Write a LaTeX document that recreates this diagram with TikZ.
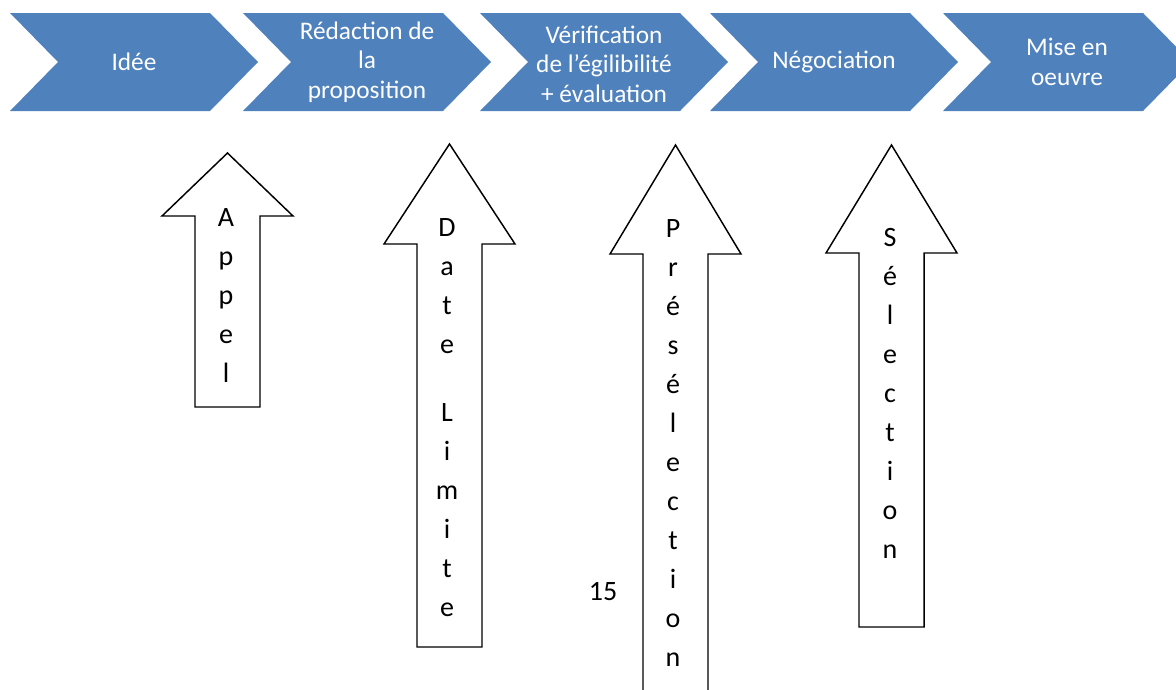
\documentclass[tikz,border=0pt]{standalone}
\usepackage{fontspec}
\setmainfont{Carlito}
\definecolor{phaseblue}{HTML}{4F81BD}

\begin{document}
\begin{tikzpicture}[x=0.75pt,y=-0.75pt,
  every node/.style={align=center,inner sep=0pt},
  phase/.style={fill=phaseblue},
  phasetext/.style={text=white,font=\fontsize{19}{22}\selectfont},
  uparrow/.style={draw=black,fill=white,line width=1.1pt,line join=miter},
  uptext/.style={anchor=north,font=\fontsize{21}{29.25}\selectfont}]
\useasboundingbox (0,0) rectangle (1176,689);
\clip (0,0) rectangle (1176,689);
% process chevrons
\foreach \x in {10,243,480,710,943}
  \fill[phase] (\x,13) -- ++(200,0) -- ++(48,49) -- ++(-48,49)
    -- ++(-200,0) -- ++(48,-49) -- cycle;
\node[phasetext] (idee) at (134,62) {Idée};
\node[phasetext] (redaction) at (367,62) {Rédaction de\\la\\proposition};
\node[phasetext] (verif) at (604,64)
  {Vérification\\de l'égilibilité\\+ évaluation};
\node[phasetext] (nego) at (834,62) {Négociation};
\node[phasetext] (mise) at (1067,62) {Mise en\\oeuvre};
% milestone arrows
\foreach \cx/\ty/\hy/\by in {227.5/153/216/407,449.5/144/244/647,
                             675.5/145/254/700,891.5/145/253/627}
  \draw[uparrow] (\cx,\ty) -- (\cx+65.5,\hy) -- (\cx+32.5,\hy)
    -- (\cx+32.5,\by) -- (\cx-32.5,\by) -- (\cx-32.5,\hy)
    -- (\cx-65.5,\hy) -- cycle;
\node[uptext] (appel) at (226,208) {A\\p\\p\\e\\l};
\node[uptext] (datelim) at (447,218)
  {D\\a\\t\\e\\[21.75pt]L\\i\\m\\i\\t\\e};
\node[uptext] (presel) at (673,219)
  {P\\r\\é\\s\\é\\l\\e\\c\\t\\i\\o\\n};
\node[uptext] (select) at (890,228) {S\\é\\l\\e\\c\\t\\i\\o\\n};
\node[font=\fontsize{21}{25}\selectfont] (page) at (603,592) {15};
\end{tikzpicture}
\end{document}
